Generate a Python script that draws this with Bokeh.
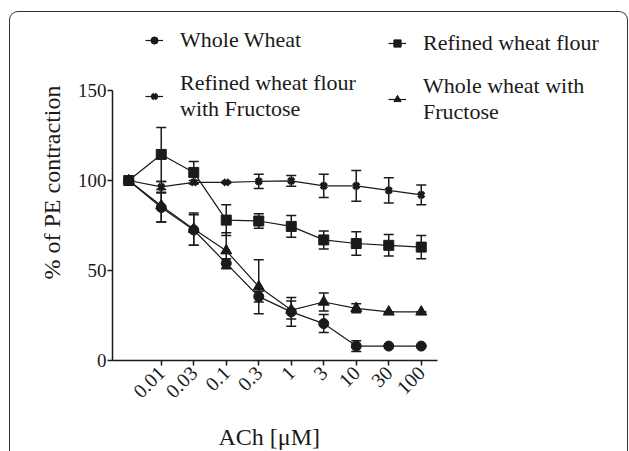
import math
from bokeh.plotting import figure
from bokeh.models import (ColumnDataSource, Range1d, FixedTicker, Whisker, TeeHead,
                          Legend, LegendItem, InlineStyleSheet, Title)
from bokeh.embed import file_html
from bokeh.resources import INLINE

# ---- data -------------------------------------------------------------
positions = [0, 1, 2, 3, 4, 5, 6, 7, 8, 9]
tick_labels = ["", "0.01", "0.03", "0.1", "0.3", "1", "3", "10", "30", "100"]

whole_wheat = [100, 85, 72.5, 54, 35.5, 27, 20.5, 8, 8, 8]
whole_wheat_err = [0, 8, 8.5, 2.5, 3, 8, 5, 3, 0, 0]

refined = [100, 114.5, 104.5, 78, 77.5, 74.5, 67, 65, 64, 63]
refined_err = [0, 15, 6, 8.5, 4, 6, 5, 6.5, 6, 6.5]

refined_fru = [100, 96.5, 99, 99, 99.5, 99.8, 97, 97, 94.5, 92]
refined_fru_err = [0, 3, 1, 0.5, 4, 3, 6.5, 8.5, 7, 5.5]

whole_fru = [100, 86, 73, 61, 41, 28, 32.5, 29, 27, 27]
whole_fru_err = [0, 9, 9, 10, 15, 5, 5, 2.5, 0, 0]

series = [
    ("Whole Wheat", whole_wheat, whole_wheat_err, "circle", 10),
    ("Refined wheat flour", refined, refined_err, "square", 10),
    ("Refined wheat flour\nwith Fructose", refined_fru, refined_fru_err, "x", 8),
    ("Whole wheat with\nFructose", whole_fru, whole_fru_err, "triangle", 11),
]

FONT = "Liberation Serif"
INK = "#1a1a1a"

border_css = InlineStyleSheet(css="""
:host::after {
  content: "";
  position: absolute;
  left: 9px; top: 11px; width: 619px; height: 440px;
  box-sizing: border-box;
  border: 1.5px solid #333333;
  border-bottom: none;
  border-radius: 9px 9px 0 0;
  pointer-events: none;
}
""")

p = figure(width=629, height=451, output_backend="svg", toolbar_location=None,
           x_range=Range1d(-0.5, 15.315), y_range=Range1d(0, 197.8),
           min_border_left=112, min_border_right=3, min_border_top=4,
           min_border_bottom=91, stylesheets=[border_css])
p.outline_line_color = None
p.xgrid.visible = False
p.ygrid.visible = False
p.background_fill_color = "white"

renderers = {}
for name, vals, errs, marker, size in series:
    src = ColumnDataSource(dict(x=positions, y=vals,
                                lo=[v - e for v, e in zip(vals, errs)],
                                hi=[v + e for v, e in zip(vals, errs)]))
    ln = p.line("x", "y", source=src, line_color=INK, line_width=1.2)
    w = Whisker(base="x", lower="lo", upper="hi", source=src, line_color=INK, line_width=1.5,
                upper_head=TeeHead(size=10, line_color=INK, line_width=1.5),
                lower_head=TeeHead(size=10, line_color=INK, line_width=1.5))
    p.add_layout(w)
    if marker == "x":
        mk = p.scatter("x", "y", source=src, marker=marker, size=size,
                       line_color=INK, line_width=3.5)
    else:
        mk = p.scatter("x", "y", source=src, marker=marker, size=size,
                       line_color=INK, fill_color=INK)
    renderers[name] = (ln, mk)

# ---- axes -------------------------------------------------------------
p.xaxis.ticker = FixedTicker(ticks=positions[1:])
p.xaxis.bounds = (-0.5, 9.5)
p.xaxis.major_label_overrides = {i: t for i, t in zip(positions, tick_labels) if t}
p.xaxis.major_label_orientation = math.pi / 4
p.yaxis.ticker = FixedTicker(ticks=[0, 50, 100, 150])
p.yaxis.bounds = (0, 150)
p.yaxis.axis_label = "% of PE contraction"
for ax in (p.xaxis, p.yaxis):
    ax.axis_line_color = INK
    ax.axis_line_width = 1.5
    ax.major_tick_line_color = INK
    ax.major_tick_line_width = 1.5
    ax.major_tick_out = 5
    ax.major_tick_in = 0
    ax.minor_tick_line_color = None
    ax.major_label_text_font = FONT
    ax.major_label_text_font_size = "19px"
    ax.major_label_text_color = INK
    ax.axis_label_text_font = FONT
    ax.axis_label_text_font_size = "24px"
    ax.axis_label_text_font_style = "normal"
    ax.axis_label_text_color = INK
p.xaxis.major_label_text_font_size = "20px"
p.yaxis.major_label_standoff = 1
p.yaxis.axis_label_standoff = 10
p.xaxis.major_label_standoff = 4

# spacer + x-axis title, left-aligned under the bounded axis
spacer = Title(text=" ", standoff=0, text_font=FONT, text_font_size="9px")
p.add_layout(spacer, "below")
xtitle = Title(text="ACh [\u03bcM]", align="left", offset=106, standoff=4,
               text_font=FONT, text_font_size="24px", text_font_style="normal",
               text_color=INK)
p.add_layout(xtitle, "below")

# ---- legends ----------------------------------------------------------
def make_legend(names, loc, spacing):
    items = [LegendItem(label=n, renderers=list(renderers[n])) for n in names]
    return Legend(items=items, location=loc, orientation="vertical",
                  label_text_font=FONT, label_text_font_size="22px",
                  label_text_color=INK, glyph_width=18, glyph_height=20,
                  label_standoff=17, spacing=spacing, padding=0,
                  border_line_color=None, background_fill_alpha=0)

p.add_layout(make_legend(["Whole Wheat", "Refined wheat flour\nwith Fructose"], (33, 238), 17))
p.add_layout(make_legend(["Refined wheat flour", "Whole wheat with\nFructose"], (276, 235), 17))

open("out.html", "w").write(file_html(p, INLINE))
